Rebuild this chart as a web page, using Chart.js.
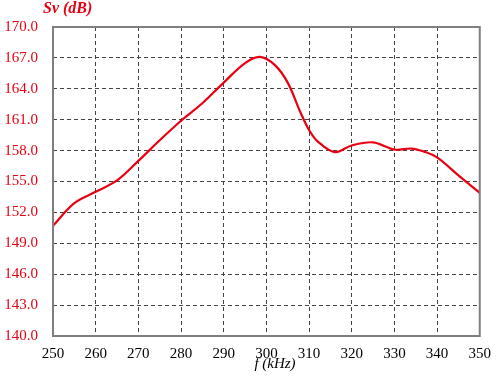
<!DOCTYPE html>
<html>
<head>
<meta charset="utf-8">
<script src="https://cdn.jsdelivr.net/npm/chart.js@4"></script>
<style>
  html, body { margin: 0; padding: 0; background: #fff; }
  #wrap { width: 500px; height: 379px; }
</style>
</head>
<body>
<div id="wrap"><canvas id="c" width="500" height="379"></canvas></div>
<script>
'use strict';
/* values */
const freqKHz = [250, 255, 260, 265, 270, 275, 280, 285, 290, 295, 298.5, 302, 305, 308, 310, 312, 316, 320, 325, 330, 334, 337, 340, 345, 350];
const svDb    = [150.7, 152.9, 154.0, 155.1, 157.0, 159.0, 160.9, 162.6, 164.6, 166.5, 167.1, 166.3, 164.6, 161.7, 160.0, 158.9, 157.85, 158.5, 158.8, 158.1, 158.2, 157.9, 157.35, 155.6, 153.9];
const xTicks  = [250, 260, 270, 280, 290, 300, 310, 320, 330, 340, 350];
const yTicks  = [140, 143, 146, 149, 152, 155, 158, 161, 164, 167, 170];

const RED  = 'rgb(232,0,18)';
const GRID = '#444';
const SERIF = '"Liberation Serif", "Times New Roman", serif';

/* ─── edge lines are drawn as a solid frame, inner ones dashed ─── */
function gridColor(ctx) {
  const t = ctx.tick ? ctx.tick.value : null;
  if (t === 250 || t === 350 || t === 140 || t === 170) return 'rgba(0,0,0,0)';
  return GRID;
}

const frame = {
  id: 'frame',
  afterDraw(chart) {
    const a = chart.chartArea, g = chart.ctx;
    g.save();
    g.strokeStyle = '#7f7f7f';
    g.lineWidth = 2;
    g.strokeRect(a.left, a.top, a.right - a.left, a.bottom - a.top);

    g.fillStyle = RED;
    g.font = 'italic bold 16px ' + SERIF;
    g.textAlign = 'left';
    g.textBaseline = 'middle';
    g.fillText('Sv (dB)', 43, 9);

    g.fillStyle = '#000';
    g.font = 'italic 15px ' + SERIF;
    g.textAlign = 'center';
    g.fillText('f (kHz)', 275, 364);
    g.restore();
  }
};

new Chart(document.getElementById('c'), {
  type: 'line',
  data: {
    datasets: [{
      data: freqKHz.map((f, i) => ({ x: f, y: svDb[i] })),
      borderColor: RED,
      borderWidth: 2.2,
      pointRadius: 0,
      fill: false,
      tension: 0.35
    }]
  },
  options: {
    responsive: false,
    animation: false,
    layout: { padding: { left: 0, right: 12, top: 27, bottom: 0 } },
    plugins: { legend: { display: false }, tooltip: { enabled: false } },
    scales: {
      x: {
        type: 'linear',
        min: 250, max: 350,
        afterBuildTicks: s => { s.ticks = xTicks.map(v => ({ value: v })); },
        afterFit: s => { s.height = 43; },
        grid: { color: gridColor, lineWidth: 1, drawTicks: false },
        border: { display: false, dash: [4, 3] },
        ticks: { color: '#000', padding: 9, font: { family: SERIF, size: 15 }, maxRotation: 0, autoSkip: false }
      },
      y: {
        min: 140, max: 170,
        afterBuildTicks: s => { s.ticks = yTicks.map(v => ({ value: v })); },
        afterFit: s => { s.width = 53; },
        grid: { color: gridColor, lineWidth: 1, drawTicks: false },
        border: { display: false, dash: [4, 3] },
        ticks: { color: RED, padding: 15, font: { family: SERIF, size: 15 }, callback: v => v.toFixed(1) }
      }
    }
  },
  plugins: [frame]
});
</script>
</body>
</html>
